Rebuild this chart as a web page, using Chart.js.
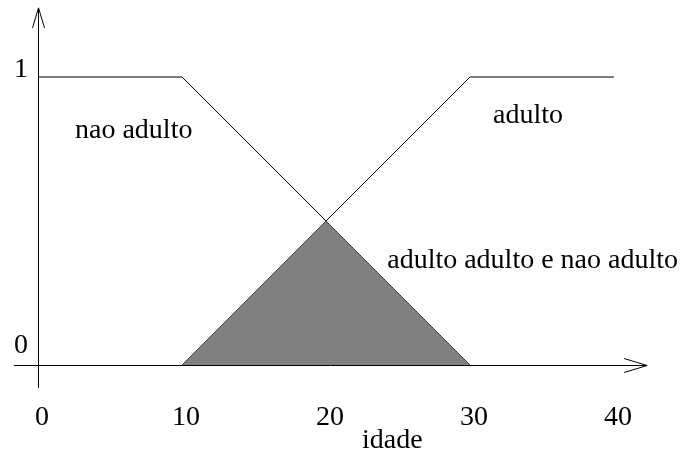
<!DOCTYPE html>
<html>
<head>
<meta charset="utf-8">
<script src="https://cdn.jsdelivr.net/npm/chart.js@4"></script>
<style>
html,body{margin:0;padding:0;background:#fff;}
#wrap{width:687px;height:456px;position:relative;}
#probe{position:absolute;left:-1000px;top:0;font-family:"Liberation Serif";font-size:28px;}
</style>
</head>
<body>
<div id="probe">nao adulto 0123</div>
<div id="wrap"><canvas id="c" width="687" height="456"></canvas></div>
<script>
// Data
const naoAdultoX = [0, 10, 30];
const naoAdultoY = [1, 1, 0];
const adultoX = [10, 30, 40];
const adultoY = [0, 1, 1];
const ambosX = [10, 20, 30];
const ambosY = [0, 0.5, 0];
const xTicks = [0, 10, 20, 30, 40];
const yTicks = [0, 1];
const labels = [
  {text: 'nao adulto', x: 2.57, y: 0.788},
  {text: 'adulto', x: 31.6, y: 0.84},
  {text: 'adulto adulto e nao adulto', x: 24.25, y: 0.337}
];
const xTitle = 'idade';

const toPts = (xs, ys) => xs.map((x, i) => ({x, y: ys[i]}));
const FONT = '28px "Liberation Serif", "Times New Roman", Times, serif';

const decor = {
  id: 'decor',
  afterDatasetsDraw(chart) {
    const ctx = chart.ctx;
    const xs = chart.scales.x, ys = chart.scales.y;
    const x0 = Math.round(xs.getPixelForValue(0)) + 0.5;
    const y0 = Math.round(ys.getPixelForValue(0)) + 0.5;
    ctx.save();
    ctx.strokeStyle = '#000';
    ctx.lineWidth = 1;
    const xEnd = xs.getPixelForValue(42.3);
    const xStart = xs.getPixelForValue(-1.67);
    ctx.beginPath();
    ctx.moveTo(xStart, y0); ctx.lineTo(xEnd, y0);
    ctx.moveTo(xEnd - 23, y0 - 7); ctx.lineTo(xEnd, y0); ctx.lineTo(xEnd - 23, y0 + 7);
    ctx.stroke();
    const yTop = ys.getPixelForValue(1.24);
    const yBot = ys.getPixelForValue(-0.08);
    ctx.beginPath();
    ctx.moveTo(x0, yBot); ctx.lineTo(x0, yTop);
    ctx.moveTo(x0 - 6, yTop + 20); ctx.lineTo(x0, yTop); ctx.lineTo(x0 + 6, yTop + 20);
    ctx.stroke();
    ctx.fillStyle = '#000';
    ctx.font = FONT;
    ctx.textAlign = 'center';
    ctx.textBaseline = 'alphabetic';
    xTicks.forEach(v => ctx.fillText(String(v), xs.getPixelForValue(v) + 4, 425));
    ctx.textAlign = 'right';
    yTicks.forEach(v => {
      const py = ys.getPixelForValue(v);
      ctx.fillText(String(v), 28, v === 0 ? py - 12 : py);
    });
    ctx.textAlign = 'left';
    labels.forEach(l => ctx.fillText(l.text, xs.getPixelForValue(l.x), ys.getPixelForValue(l.y)));
    ctx.fillText(xTitle, 362, 448);
    ctx.restore();
  }
};

function build() {
  new Chart(document.getElementById('c'), {
    type: 'line',
    data: {
      datasets: [
        {label: 'adulto e nao adulto', data: toPts(ambosX, ambosY), borderColor: 'rgba(0,0,0,0)', borderWidth: 0,
         backgroundColor: '#808080', fill: 'origin', pointRadius: 0, tension: 0, clip: false},
        {label: 'nao adulto', data: toPts(naoAdultoX, naoAdultoY), borderColor: '#000', borderWidth: 1,
         fill: false, pointRadius: 0, tension: 0, clip: false},
        {label: 'adulto', data: toPts(adultoX, adultoY), borderColor: '#000', borderWidth: 1,
         fill: false, pointRadius: 0, tension: 0, clip: false}
      ]
    },
    options: {
      responsive: false,
      animation: false,
      devicePixelRatio: 1,
      layout: {padding: {left: 38, right: 73, top: 77, bottom: 91}},
      plugins: {legend: {display: false}, tooltip: {enabled: false}},
      scales: {
        x: {type: 'linear', min: 0, max: 40, display: false},
        y: {type: 'linear', min: 0, max: 1, display: false}
      }
    },
    plugins: [decor]
  });
}
if (document.fonts && document.fonts.load) {
  document.fonts.load(FONT, 'nao adulto 0123').then(build, build);
} else {
  build();
}
</script>
</body>
</html>
